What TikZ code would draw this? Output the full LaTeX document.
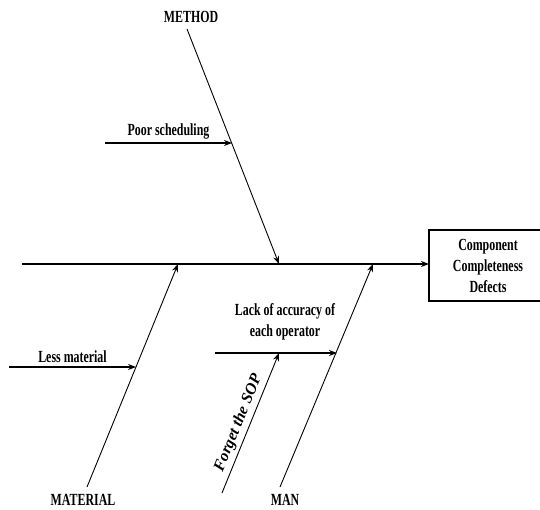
\documentclass[tikz,border=0pt]{standalone}
\usepackage{fontspec}
\setmainfont{Liberation Serif}[FakeStretch=0.7]
\newfontfamily\wideserif{Liberation Serif}
\usetikzlibrary{positioning, calc, arrows.meta}
\tikzset{
	bone/.style={line width=0.9pt, -{Stealth[length=8pt, width=6pt]}},
	cause/.style={line width=1.6pt, -{Stealth[length=8pt, width=6pt]}},
	spine/.style={line width=1.4pt, -{Stealth[length=8pt, width=6pt]}},
}

\begin{document}
\begin{tikzpicture}[x=1pt, y=-1pt, font=\bfseries\fontsize{17}{21}\selectfont]
		\useasboundingbox (0,0) rectangle (540,510);
		\clip (0,0) rectangle (540,510);

		% effect box, its right side runs off the page
		\node (effect) [align=center] at (488,265.5) {Component\\Completeness\\Defects};
		\coordinate (E1) at (580,230);
		\coordinate (E2) at (429,230);
		\coordinate (E3) at (429,301);
		\coordinate (E4) at (580,301);
		\draw[line width=1.2pt] (E1) -- (E2) -- (E3) -- (E4);
		\coordinate (tail) at (22,264);
		\draw[spine] (tail) -- (tail -| E2);

		\node (method) at (191,17) {METHOD};
		\coordinate (M1) at (187,29);
		\coordinate (M2) at (279,264);
		\draw[bone] (M1) -- (M2);
		\coordinate (P1) at (105,143);
		\coordinate (P2) at (232,143);
		\draw[cause] (P1) -- node (poor) [midway, above] {Poor scheduling} (P2);

		\node (material) at (83,500) {MATERIAL};
		\coordinate (A1) at (87,487);
		\coordinate (A2) at (178,264);
		\draw[bone] (A1) -- (A2);
		\coordinate (L1) at (9,367);
		\coordinate (L2) at (136,367);
		\draw[cause] (L1) -- node (less) [midway, above] {Less material} (L2);

		\node (man) at (285,500) {MAN};
		\coordinate (N1) at (280,487);
		\coordinate (N2) at (373,264);
		\draw[bone] (N1) -- (N2);
		\coordinate (K1) at (215,353);
		\coordinate (K2) at (337,353);
		\draw[cause] (K1) -- (K2);
		\node (lack) [align=center] at (285,322) {Lack of accuracy of\\each operator};
		\coordinate (F1) at (222,493);
		\coordinate (F2) at (279,353);
		\draw[bone] (F1) -- node (forget) [pos=0.47, sloped, above, font=\wideserif\bfseries\itshape\fontsize{16}{19}\selectfont] {Forget the SOP} (F2);
	\end{tikzpicture}
\end{document}
